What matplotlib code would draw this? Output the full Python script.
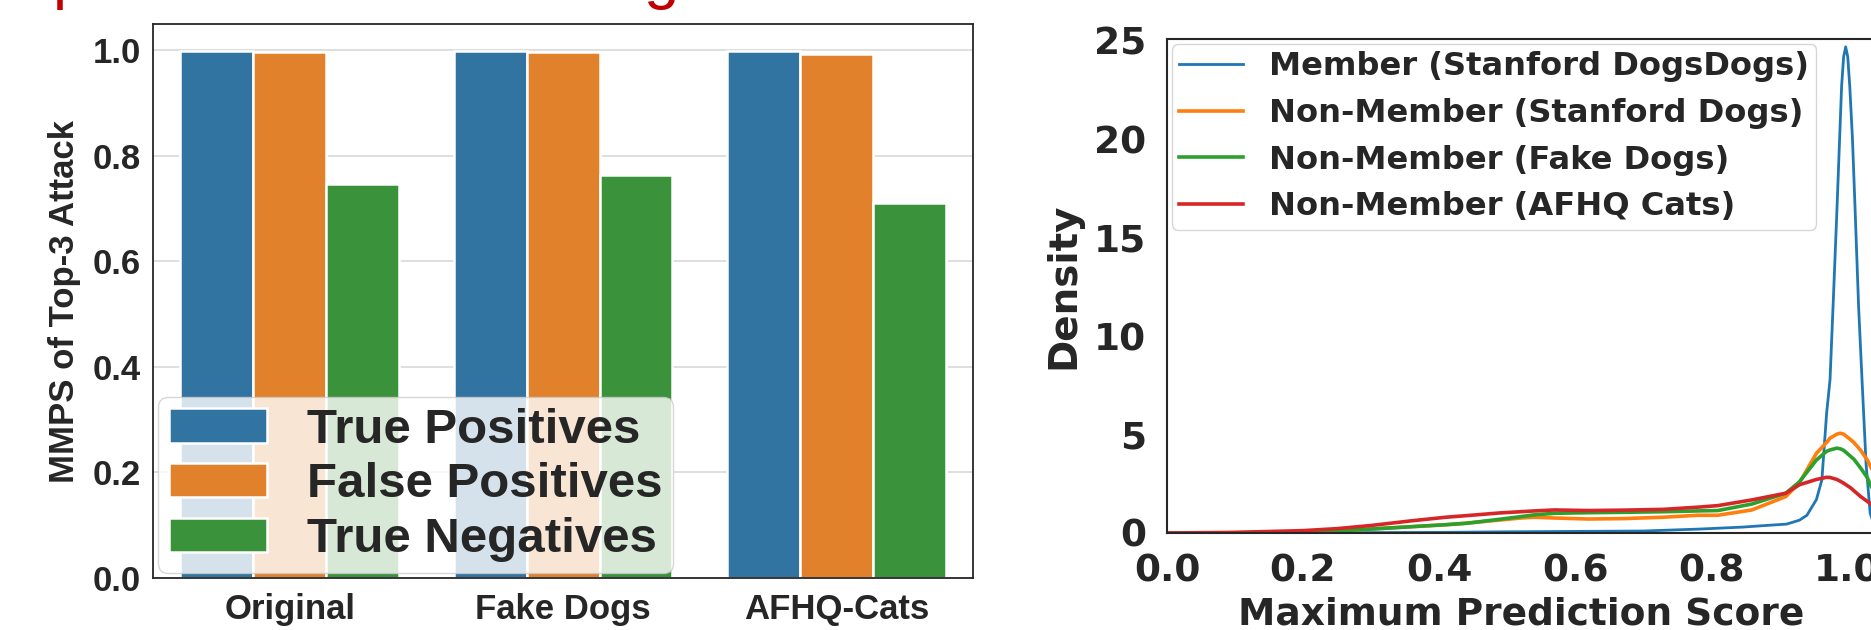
import matplotlib
matplotlib.use("Agg")
import matplotlib.pyplot as plt
import numpy as np

# left panel: MMPS of the top-3 attack
groups = ["Original", "Fake Dogs", "AFHQ-Cats"]
bar_labels = ["True Positives", "False Positives", "True Negatives"]
true_pos = [0.998, 0.998, 0.998]
false_pos = [0.996, 0.996, 0.994]
true_neg = [0.747, 0.763, 0.711]
yticks_left = [0.0, 0.2, 0.4, 0.6, 0.8, 1.0]

# right panel: density of the maximum prediction score
member_x = [0.0, 0.1, 0.2, 0.3, 0.4, 0.5, 0.6, 0.7, 0.784, 0.847, 0.88, 0.911, 0.93,
            0.941, 0.955, 0.963, 0.970, 0.975, 0.980, 0.985, 0.992, 0.995, 0.998,
            1.001, 1.004, 1.008, 1.012, 1.017, 1.022, 1.028, 1.034, 1.041]
member_y = [0.0, 0.0, 0.01, 0.02, 0.03, 0.06, 0.08, 0.1, 0.2, 0.3, 0.38, 0.45, 0.65,
            0.9, 1.7, 2.7, 6.1, 7.8, 12.0, 16.3, 22.7, 24.2, 24.7,
            24.2, 22.7, 20.0, 16.3, 11.5, 7.8, 3.5, 1.0, 0.3]

score_x = [0.0, 0.1, 0.2, 0.25, 0.3, 0.36, 0.41, 0.44, 0.49, 0.52, 0.54, 0.57, 0.62,
           0.67, 0.73, 0.78, 0.81, 0.86, 0.91, 0.93, 0.955, 0.97, 0.975, 0.985,
           0.99, 0.995, 1.005, 1.01, 1.02, 1.03, 1.035, 1.041]
nonmem_sd = [0.0, 0.01, 0.05, 0.1, 0.2, 0.32, 0.42, 0.5, 0.66, 0.76, 0.8, 0.76, 0.71,
             0.73, 0.8, 0.9, 0.9, 1.17, 1.85, 2.55, 4.05, 4.6, 4.82, 5.02,
             5.07, 5.02, 4.75, 4.6, 4.2, 3.7, 3.34, 3.0]
nonmem_fake = [0.0, 0.01, 0.05, 0.1, 0.2, 0.32, 0.42, 0.49, 0.7, 0.83, 0.92, 1.0, 1.03,
               1.05, 1.08, 1.12, 1.14, 1.47, 2.02, 2.6, 3.71, 4.15, 4.22, 4.31,
               4.28, 4.2, 3.9, 3.75, 3.3, 2.8, 2.39, 2.1]
nonmem_cats = [0.0, 0.03, 0.12, 0.22, 0.38, 0.62, 0.8, 0.88, 1.02, 1.08, 1.12, 1.17, 1.14,
               1.16, 1.2, 1.31, 1.39, 1.68, 2.02, 2.45, 2.72, 2.83, 2.82, 2.72,
               2.63, 2.53, 2.3, 2.15, 1.85, 1.6, 1.47, 1.3]
density_labels = ["Member (Stanford DogsDogs)", "Non-Member (Stanford Dogs)",
                  "Non-Member (Fake Dogs)", "Non-Member (AFHQ Cats)"]
xticks_right = [0.0, 0.2, 0.4, 0.6, 0.8, 1.0]
yticks_right = [0, 5, 10, 15, 20, 25]

bar_colors = ["#3274a1", "#e1812c", "#3a923a"]
line_colors = ["#1f77b4", "#ff7f0e", "#2ca02c", "#d62728"]
dark = "#262626"

fig = plt.figure(figsize=(18.71, 6.30), dpi=100)

# ---------------- left: grouped bars ----------------
ax1 = fig.add_axes([0.0818, 0.0825, 0.4383, 0.8794])
arial = "Liberation Sans"
x = np.arange(len(groups))
w = 0.8 / 3
for i, (vals, col, lab) in enumerate(zip([true_pos, false_pos, true_neg], bar_colors, bar_labels)):
    ax1.bar(x + (i - 1) * w, vals, width=w, color=col, edgecolor="white",
            linewidth=1.8, label=lab, zorder=2)
ax1.set_xlim(-0.5, 2.5)
ax1.set_ylim(0, 1.05)
ax1.set_yticks(yticks_left)
ax1.set_yticklabels([f"{v:.1f}" for v in yticks_left], fontfamily=arial,
                    fontweight="bold", fontsize=25, color=dark)
ax1.set_xticks(x)
ax1.set_xticklabels(groups, fontfamily=arial, fontweight="bold", fontsize=25, color=dark)
ax1.tick_params(axis="both", length=0)
ax1.tick_params(axis="y", pad=9)
ax1.tick_params(axis="x", pad=11)
ax1.set_ylabel("MMPS of Top-3 Attack", fontfamily=arial, fontweight="bold",
               fontsize=25, color=dark, labelpad=8)
ax1.yaxis.grid(True, color="#dcdcdc", linewidth=1.3, zorder=0)
ax1.set_axisbelow(True)
for s in ax1.spines.values():
    s.set_color(dark)
    s.set_linewidth(1.3)
leg1 = ax1.legend(loc="lower left", prop={"family": arial, "weight": "bold", "size": 35.5},
                  framealpha=0.8, edgecolor="0.8", borderaxespad=0.1,
                  handlelength=2.0, handletextpad=0.8, labelspacing=0.2,
                  borderpad=0.22)
for t in leg1.get_texts():
    t.set_color(dark)

# red title remnant at the top edge (cut off in the reference)
fig.text(53 / 1871, 1.004, "p", color="#c00000", fontsize=46, fontfamily=arial,
         va="baseline", ha="left")
fig.text(643 / 1871, 1.004, "g", color="#c00000", fontsize=46, fontfamily=arial,
         va="baseline", ha="left")

# ---------------- right: density curves ----------------
ax2 = fig.add_axes([0.6237, 0.154, 0.3784, 0.7841])
ax2.plot(member_x, member_y, color=line_colors[0], linewidth=2.0, label=density_labels[0])
ax2.plot(score_x, nonmem_sd, color=line_colors[1], linewidth=2.6, label=density_labels[1])
ax2.plot(score_x, nonmem_fake, color=line_colors[2], linewidth=2.6, label=density_labels[2])
ax2.plot(score_x, nonmem_cats, color=line_colors[3], linewidth=2.6, label=density_labels[3])
ax2.set_xlim(0, 1.041)
ax2.set_ylim(0, 25.1)
ax2.set_xticks(xticks_right)
ax2.set_xticklabels([f"{v:.1f}" for v in xticks_right], fontfamily="DejaVu Sans",
                    fontweight="bold", fontsize=27, color=dark)
ax2.set_yticks(yticks_right)
ax2.set_yticklabels([str(v) for v in yticks_right], fontfamily="DejaVu Sans",
                    fontweight="bold", fontsize=27, color=dark)
ax2.tick_params(axis="both", length=0, pad=15)
ax2.set_xlabel("Maximum Prediction Score", fontfamily="DejaVu Sans", fontweight="bold",
               fontsize=27, color=dark, labelpad=5)
ax2.set_ylabel("Density", fontfamily="DejaVu Sans", fontweight="bold",
               fontsize=28, color=dark, labelpad=8)
for s in ax2.spines.values():
    s.set_color(dark)
    s.set_linewidth(1.5)
leg2 = ax2.legend(loc="upper left", prop={"family": "DejaVu Sans", "weight": "bold", "size": 23.1},
                  framealpha=0.8, edgecolor="0.8", borderaxespad=0.15,
                  handlelength=2.0, handletextpad=0.8, labelspacing=0.49, borderpad=0.23)
for t in leg2.get_texts():
    t.set_color(dark)

fig.savefig("out.png", dpi=100)
